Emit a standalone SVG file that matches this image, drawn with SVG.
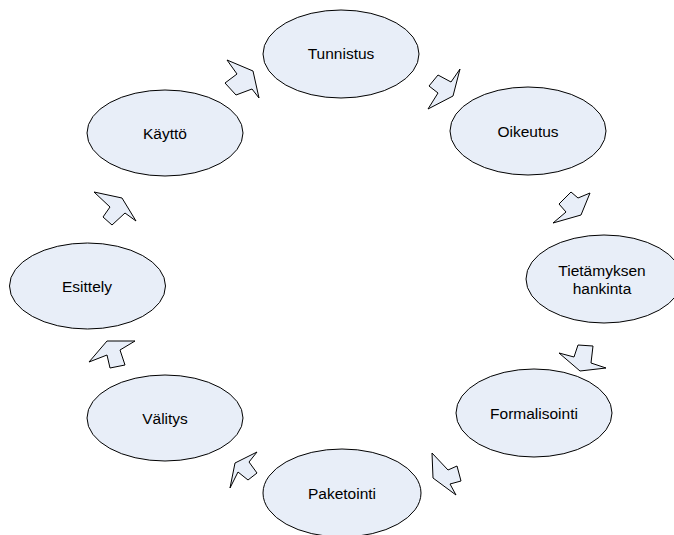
<svg xmlns="http://www.w3.org/2000/svg" width="674" height="535" viewBox="0 0 674 535">
  <style>
    .node ellipse { fill: #E8EEF8; stroke: #000; stroke-width: 1; }
    .node text { font-family: "Liberation Sans", Arial, sans-serif; font-size: 15.5px; fill: #000; text-anchor: middle; dominant-baseline: central; }
    .flow polygon { fill: #E8EEF8; stroke: #000; stroke-width: 1; stroke-linejoin: miter; }
  </style>
  <rect width="674" height="535" fill="#fff"/>

  <g id="tunnistus" class="node">
    <ellipse cx="341" cy="54" rx="78" ry="44"/>
    <text x="341" y="53">Tunnistus</text>
  </g>
  <g id="oikeutus" class="node">
    <ellipse cx="528" cy="131" rx="78" ry="44"/>
    <text x="528" y="131">Oikeutus</text>
  </g>
  <g id="tietamyksen-hankinta" class="node">
    <ellipse cx="604" cy="279" rx="78" ry="44"/>
    <text x="602" y="270">Tietämyksen</text>
    <text x="602" y="288">hankinta</text>
  </g>
  <g id="formalisointi" class="node">
    <ellipse cx="534" cy="413" rx="78" ry="44"/>
    <text x="534" y="413">Formalisointi</text>
  </g>
  <g id="paketointi" class="node">
    <ellipse cx="342" cy="493" rx="79" ry="44"/>
    <text x="342" y="493">Paketointi</text>
  </g>
  <g id="valitys" class="node">
    <ellipse cx="165" cy="418" rx="78" ry="43"/>
    <text x="165" y="418">Välitys</text>
  </g>
  <g id="esittely" class="node">
    <ellipse cx="87.5" cy="286" rx="78" ry="43"/>
    <text x="87" y="286">Esittely</text>
  </g>
  <g id="kaytto" class="node">
    <ellipse cx="165" cy="133" rx="78" ry="43"/>
    <text x="165" y="133">Käyttö</text>
  </g>

  <!-- block arrows between the stages, clockwise -->
  <g id="connectors" class="flow">
    <polygon points="237,74 227,60 253,71 259,98 252,89 236,95 225,83"/>
    <polygon points="438,75 451,82 460,69 453,96 428,109 438,93 429,86"/>
    <polygon points="571,192 578,198 590,193 581,215 553,223 566,212 559,204"/>
    <polygon points="578,345 593,346 591,363 606,368 580,371 559,353 574,357"/>
    <polygon points="432,453 448,470 457,466 461,481 450,484 456,495 433,478"/>
    <polygon points="257,452 235,463 230,488 238,472 248,480 257,473 249,462"/>
    <polygon points="107,341 135,341 120,350 125,365 110,368 107,355 89,362"/>
    <polygon points="94,192 122,198 136,221 125,213 112,225 103,217 110,207"/>
  </g>
</svg>
